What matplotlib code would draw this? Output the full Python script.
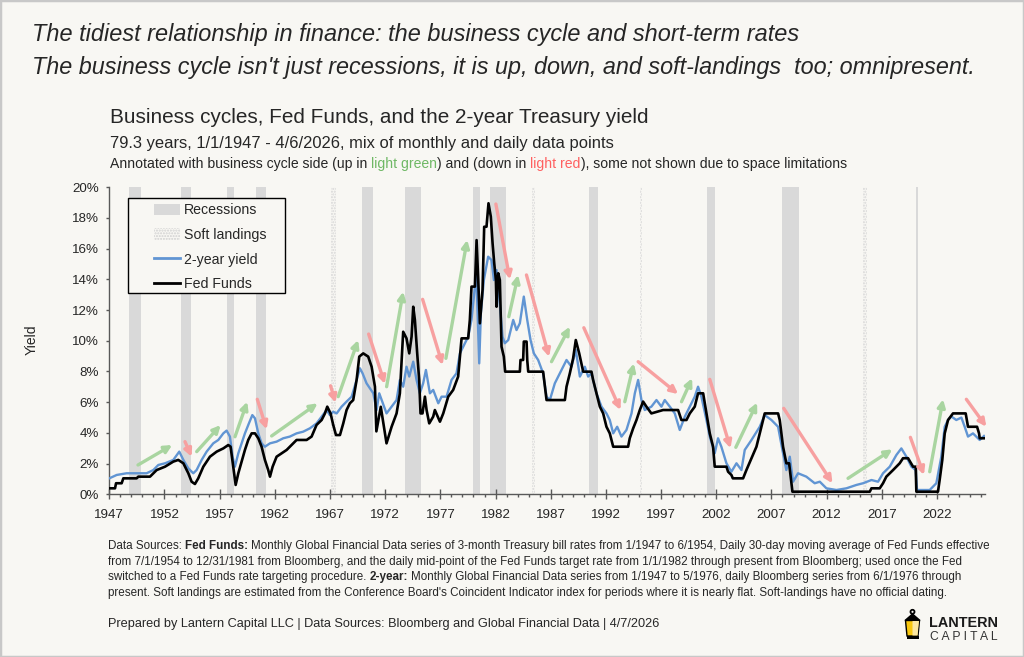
import matplotlib
matplotlib.use('Agg')
import matplotlib.pyplot as plt
from matplotlib.patches import Patch, Polygon, Rectangle, Circle
from matplotlib.lines import Line2D
from matplotlib.ticker import MultipleLocator, FuncFormatter

# Fed Funds (black line)
ff_year = [1947.0, 1947.52, 1947.61, 1948.12, 1948.27, 1949.48, 1949.63, 1950.69, 1951.29, 1952.05,
           1952.8, 1953.25, 1953.71, 1954.16, 1954.46, 1954.76, 1955.06, 1955.52, 1956.12, 1956.73,
           1957.33, 1957.78, 1957.99, 1958.45, 1958.69, 1958.99, 1959.29, 1959.59, 1959.9, 1960.2,
           1960.5, 1960.8, 1961.1, 1961.4, 1961.56, 1961.8, 1962.16, 1962.61, 1963.07, 1963.52,
           1963.97, 1964.88, 1965.33, 1965.78, 1966.24, 1966.54, 1966.75, 1967.05, 1967.29, 1967.54,
           1967.9, 1968.2, 1968.5, 1968.8, 1969.1, 1969.41, 1969.65, 1970.01, 1970.46, 1970.77,
           1971.07, 1971.2, 1971.6, 1972.12, 1972.58, 1973.03, 1973.33, 1973.63, 1973.93, 1974.18,
           1974.39, 1974.54, 1974.69, 1974.9, 1975.08, 1975.2, 1975.38, 1975.6, 1975.75, 1975.99,
           1976.35, 1976.5, 1976.96, 1977.26, 1977.71, 1978.16, 1978.61, 1978.92, 1979.52, 1979.67,
           1979.82, 1980.13, 1980.28, 1980.43, 1980.58, 1980.82, 1980.97, 1981.18, 1981.36, 1981.57,
           1981.73, 1981.88, 1982.03, 1982.09, 1982.24, 1982.39, 1982.54, 1982.75, 1982.87, 1984.2,
           1984.26, 1984.5, 1984.56, 1984.81, 1984.87, 1984.96, 1986.31, 1986.47, 1986.62, 1988.28,
           1988.43, 1988.73, 1989.03, 1989.27, 1989.58, 1989.94, 1990.69, 1990.84, 1991.14, 1991.45,
           1991.75, 1992.05, 1992.35, 1992.66, 1994.01, 1994.16, 1994.47, 1994.77, 1995.07, 1995.37,
           1995.67, 1996.12, 1997.18, 1998.54, 1998.84, 1999.3, 1999.6, 2000.05, 2000.35, 2000.81,
           2001.11, 2001.41, 2001.71, 2001.86, 2002.92, 2003.07, 2003.37, 2003.5, 2004.43, 2004.73,
           2005.64, 2006.39, 2007.6, 2007.75, 2008.05, 2008.35, 2008.6, 2008.9, 2015.91, 2016.06,
           2016.81, 2017.11, 2017.41, 2018.02, 2018.62, 2018.92, 2019.38, 2019.83, 2020.07, 2020.13,
           2022.09, 2022.24, 2022.48, 2022.7, 2023.0, 2023.45, 2024.6, 2024.81, 2025.63, 2025.81,
           2025.87, 2026.26]
ff_rate = [0.39, 0.39, 0.72, 0.72, 1.04, 1.04, 1.15, 1.15, 1.58, 1.80,
           2.13, 2.24, 2.02, 1.37, 0.82, 0.67, 1.04, 1.80, 2.45, 2.78,
           2.99, 3.21, 3.10, 0.61, 1.37, 2.13, 2.89, 3.54, 3.97, 3.97,
           3.65, 3.10, 2.24, 1.58, 1.15, 1.80, 2.45, 2.67, 2.89, 3.21,
           3.54, 3.54, 3.76, 4.52, 4.84, 5.27, 5.71, 5.27, 4.52, 3.86,
           3.86, 4.62, 5.49, 5.93, 6.14, 7.45, 8.97, 9.18, 8.97, 8.31,
           7.01, 4.10, 5.70, 3.32, 4.40, 5.27, 6.58, 10.59, 10.16, 9.18,
           10.27, 12.22, 11.36, 9.18, 7.45, 5.27, 5.27, 6.36, 5.49, 4.62,
           5.06, 5.49, 4.73, 5.27, 6.36, 6.80, 7.67, 10.16, 10.16, 11.36,
           13.53, 13.53, 16.56, 13.96, 11.14, 13.31, 17.43, 17.43, 18.96, 18.09,
           16.35, 15.05, 13.96, 12.22, 14.40, 13.96, 9.62, 8.97, 7.99, 7.99,
           8.75, 8.75, 9.95, 9.95, 8.75, 7.99, 7.99, 7.01, 6.14, 6.14,
           7.01, 7.88, 8.86, 10.05, 9.18, 7.99, 7.99, 7.45, 6.58, 5.71,
           5.27, 4.40, 3.97, 3.10, 3.10, 3.65, 4.30, 4.84, 5.49, 6.04,
           5.71, 5.27, 5.49, 5.49, 4.84, 4.84, 5.27, 5.71, 6.58, 6.58,
           5.27, 3.97, 3.10, 1.80, 1.80, 1.47, 1.26, 1.04, 1.04, 1.58,
           3.10, 5.27, 5.27, 4.84, 3.10, 2.02, 2.02, 0.17, 0.17, 0.39,
           0.39, 0.72, 1.15, 1.58, 2.02, 2.35, 2.35, 1.80, 1.80, 0.17,
           0.17, 0.93, 2.24, 3.97, 4.84, 5.27, 5.27, 4.40, 4.40, 3.97,
           3.65, 3.65]

# 2-year Treasury yield (blue line)
y2_year = [1947.0, 1947.67, 1948.57, 1950.38, 1950.99, 1951.44, 1952.05, 1952.8, 1953.34, 1953.71,
           1954.16, 1954.61, 1954.91, 1955.37, 1955.82, 1956.42, 1956.88, 1957.33, 1957.63, 1957.93,
           1958.17, 1958.38, 1958.69, 1958.99, 1959.29, 1959.65, 1959.96, 1960.2, 1960.5, 1960.8,
           1961.1, 1961.56, 1962.16, 1962.76, 1963.36, 1963.97, 1964.57, 1965.18, 1965.78, 1966.24,
           1966.69, 1966.99, 1967.29, 1967.6, 1968.05, 1968.5, 1968.96, 1969.41, 1969.71, 1969.95,
           1970.31, 1970.92, 1971.22, 1971.46, 1972.12, 1972.58, 1973.03, 1973.33, 1973.63, 1973.93,
           1974.18, 1974.54, 1974.84, 1975.14, 1975.44, 1975.69, 1976.05, 1976.35, 1976.81, 1977.11,
           1977.56, 1978.01, 1978.46, 1978.77, 1979.22, 1979.52, 1979.82, 1980.13, 1980.25, 1980.52,
           1980.67, 1980.94, 1981.33, 1981.63, 1981.85, 1982.09, 1982.33, 1982.63, 1982.84, 1983.15,
           1983.6, 1983.9, 1984.2, 1984.56, 1984.87, 1985.17, 1985.47, 1985.86, 1986.31, 1986.62,
           1986.92, 1987.37, 1987.82, 1988.43, 1988.88, 1989.27, 1989.64, 1990.09, 1990.39, 1990.69,
           1991.14, 1991.6, 1992.05, 1992.35, 1992.66, 1993.02, 1993.41, 1993.86, 1994.32, 1994.62,
           1994.92, 1995.22, 1995.52, 1996.12, 1996.58, 1997.03, 1997.33, 1997.79, 1998.24, 1998.69,
           1999.15, 1999.6, 2000.05, 2000.35, 2000.65, 2001.11, 2001.41, 2001.86, 2002.16, 2002.46,
           2002.92, 2003.37, 2003.83, 2004.28, 2004.58, 2005.19, 2005.94, 2006.39, 2007.0, 2007.6,
           2008.05, 2008.35, 2008.66, 2008.96, 2009.41, 2010.16, 2010.92, 2011.38, 2011.98, 2012.89,
           2013.79, 2014.7, 2015.3, 2016.06, 2016.66, 2017.11, 2017.72, 2018.32, 2018.77, 2019.23,
           2019.68, 2020.07, 2020.19, 2021.34, 2021.94, 2022.39, 2022.7, 2023.0, 2023.3, 2023.75,
           2024.21, 2024.51, 2024.81, 2025.26, 2025.87, 2026.26]
y2_rate = [1.04, 1.26, 1.37, 1.37, 1.58, 1.91, 2.02, 2.24, 2.78, 2.24,
           1.69, 1.37, 1.58, 2.24, 2.78, 3.32, 3.54, 3.97, 4.15, 3.76,
           2.45, 1.80, 2.67, 3.32, 3.97, 4.62, 5.16, 4.95, 3.97, 3.32,
           3.10, 3.32, 3.43, 3.65, 3.76, 3.97, 4.08, 4.30, 4.62, 5.06,
           5.49, 5.16, 5.38, 5.27, 5.71, 6.04, 6.36, 7.45, 8.21, 7.88,
           7.23, 6.58, 5.49, 6.58, 5.27, 5.71, 6.14, 7.45, 7.01, 8.31,
           7.67, 8.64, 7.45, 6.58, 7.23, 8.10, 6.58, 6.80, 5.93, 6.36,
           6.36, 7.45, 7.88, 9.18, 9.84, 10.27, 11.36, 13.53, 14.5, 8.53,
           11.79, 13.96, 15.48, 15.26, 13.96, 14.61, 12.88, 10.27, 9.84, 10.05,
           11.36, 10.70, 11.14, 12.88, 11.36, 10.05, 9.18, 8.75, 7.88, 6.36,
           6.14, 7.23, 7.88, 8.75, 8.31, 9.40, 7.67, 8.31, 7.67, 7.88,
           6.58, 5.71, 5.27, 4.84, 3.97, 4.40, 3.76, 4.19, 5.27, 6.58,
           7.45, 6.14, 5.49, 5.71, 6.14, 5.71, 6.14, 5.71, 5.27, 4.19,
           5.06, 5.71, 6.36, 7.01, 6.36, 4.84, 3.76, 2.67, 3.65, 3.10,
           2.02, 1.47, 2.02, 1.58, 2.89, 3.54, 4.40, 5.16, 4.84, 4.40,
           2.67, 1.58, 2.45, 0.82, 1.37, 1.15, 0.72, 0.82, 0.39, 0.28,
           0.39, 0.61, 0.72, 0.93, 0.82, 1.37, 1.80, 2.56, 2.99, 2.45,
           1.80, 1.58, 0.28, 0.28, 0.72, 2.45, 4.40, 4.84, 5.07, 4.84,
           5.00, 4.40, 3.76, 3.97, 3.54, 3.80]

# NBER recessions and estimated soft landings (start, end)
recessions = [(1948.83, 1949.83), (1953.5, 1954.42), (1957.62, 1958.33), (1960.3, 1961.17),
              (1969.92, 1970.92), (1973.83, 1975.25), (1980.0, 1980.55), (1981.5, 1982.92),
              (1990.5, 1991.25), (2001.17, 2001.9), (2007.92, 2009.48), (2020.1, 2020.32)]
soft_landings = [(1967.05, 1967.5), (1985.3, 1985.55), (1995.05, 1995.28), (2015.3, 2015.65)]

# business cycle arrows: (x0, y0, x1, y1) in year / percent
up_arrows = [(1949.6, 1.91, 1952.7, 3.21), (1954.92, 2.78, 1957.09, 4.51), (1958.39, 3.75, 1959.5, 6.03),
             (1961.71, 3.80, 1965.88, 5.93), (1967.74, 6.36, 1969.55, 10.05), (1972.13, 7.01, 1973.63, 13.2),
             (1977.5, 8.86, 1979.43, 16.57), (1983.2, 11.57, 1984.05, 14.29), (1987.07, 8.64, 1988.73, 10.92),
             (1993.71, 6.03, 1994.53, 8.53), (1998.85, 6.03, 1999.81, 7.56), (2003.77, 3.06, 2005.7, 5.97),
             (2013.94, 1.04, 2017.96, 2.93), (2021.34, 1.47, 2022.55, 6.19)]
down_arrows = [(1953.86, 3.43, 1954.46, 2.45), (1960.41, 6.19, 1961.26, 4.23), (1967.05, 7.07, 1967.5, 5.97),
               (1970.5, 10.44, 1971.97, 7.19), (1975.39, 12.7, 1977.2, 8.42), (1982.03, 18.91, 1983.3, 14.0),
               (1984.8, 14.29, 1986.85, 8.96), (1990.0, 10.85, 1993.32, 5.49), (1994.92, 8.64, 1998.54, 6.53),
               (2001.41, 7.49, 2003.29, 3.0), (2008.11, 5.6, 2012.53, 0.72), (2019.59, 3.71, 2020.82, 1.26),
               (2024.66, 6.19, 2026.47, 4.40)]

year_ticks = list(range(1947, 2023, 5))
legend_labels = ['Recessions', 'Soft landings', '2-year yield', 'Fed Funds']

W, H = 1024, 657
BG = '#f8f7f3'
BLUE = '#6195d3'
GREEN = '#a9d5a0'
RED = '#f7a0a0'
TXT = '#262626'

plt.rcParams['font.family'] = ['Liberation Sans', 'DejaVu Sans']
fig = plt.figure(figsize=(W / 100, H / 100), dpi=100, facecolor=BG)
renderer = fig.canvas.get_renderer()

# main axes, placed in pixel terms
AX_L, AX_R, AX_T, AX_B = 109.3, 985.0, 187.3, 494.3
ax = fig.add_axes([AX_L / W, 1 - AX_B / H, (AX_R - AX_L) / W, (AX_B - AX_T) / H])
ax.set_facecolor(BG)


def ax_frac(px, py):
    return (px - AX_L) / (AX_R - AX_L), (AX_B - py) / (AX_B - AX_T)


for a, b in recessions:
    ax.axvspan(a, b, color='#d9d9d9', lw=0, zorder=0)
for a, b in soft_landings:
    ax.axvspan(a, b, facecolor='none', edgecolor='#d6d6d6', hatch='......', lw=0, zorder=0)

ax.plot(y2_year, y2_rate, color=BLUE, lw=1.7, zorder=3)
ax.plot(ff_year, ff_rate, color='black', lw=1.9, zorder=4)

for arrows, col in ((up_arrows, GREEN), (down_arrows, RED)):
    for x0, y0, x1, y1 in arrows:
        ax.annotate('', xy=(x1, y1), xytext=(x0, y0), annotation_clip=False, zorder=5,
                    arrowprops=dict(arrowstyle='-|>', color=col, lw=2.4, mutation_scale=11,
                                    shrinkA=0, shrinkB=0))

ax.set_xlim(1947, 2026.35)
ax.set_ylim(0, 20)
ax.set_xticks(year_ticks)
ax.xaxis.set_minor_locator(MultipleLocator(1))
ax.yaxis.set_major_locator(MultipleLocator(2))
ax.yaxis.set_major_formatter(FuncFormatter(lambda v, p: f'{v:.0f}%'))
ax.tick_params(axis='x', which='major', direction='inout', length=7, width=1, color='#595959',
               labelsize=9.6, labelcolor=TXT, pad=7)
ax.tick_params(axis='x', which='minor', direction='out', length=2.5, width=1, color='#595959')
ax.tick_params(axis='y', direction='out', length=2.5, width=1, color='#595959',
               labelsize=9.6, labelcolor=TXT, pad=5)
for s in ('top', 'right'):
    ax.spines[s].set_visible(False)
for s in ('left', 'bottom'):
    ax.spines[s].set_color('#595959')
    ax.spines[s].set_linewidth(1)

fig.text(32 / W, 1 - 340 / H, 'Yield', rotation=90, ha='center', va='center', fontsize=10, color=TXT)

# legend: box drawn separately so the inner padding matches the original
bx0, by0 = ax_frac(128, 293)
bx1, by1 = ax_frac(285, 198)
ax.add_patch(Rectangle((bx0, by0), bx1 - bx0, by1 - by0, transform=ax.transAxes,
                       facecolor=BG, edgecolor='black', lw=1, zorder=6))
handles = [Patch(facecolor='#d9d9d9', lw=0),
           Patch(facecolor=BG, edgecolor='#d0d0d0', hatch='......', lw=0),
           Line2D([], [], color=BLUE, lw=2),
           Line2D([], [], color='black', lw=2)]
leg = ax.legend(handles, legend_labels, loc='upper left', bbox_to_anchor=ax_frac(154, 203.5),
                frameon=False, fontsize=10.2, borderaxespad=0, borderpad=0,
                handlelength=1.8, handleheight=0.9, handletextpad=0.3, labelspacing=0.75)
leg.set_zorder(7)
for t in leg.get_texts():
    t.set_color(TXT)


def text_width(s, size, weight='normal', style='normal'):
    t = fig.text(0, 0, s, fontsize=size, fontweight=weight, fontstyle=style)
    w = t.get_window_extent(renderer).width
    t.remove()
    return w


def fit_text(x_px, y_px, s, right_px, size, **kw):
    w = text_width(s, size, kw.get('fontweight', 'normal'), kw.get('style', 'normal'))
    size = size * (right_px - x_px) / w
    fig.text(x_px / W, 1 - y_px / H, s, fontsize=size, va='baseline', ha='left', **kw)
    return size


def pieces_width(pieces, size):
    sp = text_width('a a', size) - text_width('aa', size)
    return sum(text_width(s, size, wt) + (sp if gap else 0) for s, c, wt, gap in pieces)


def draw_pieces(x_px, y_px, pieces, size):
    sp = text_width('a a', size) - text_width('aa', size)
    x = x_px
    for s, color, weight, gap in pieces:
        if gap:
            x += sp
        t = fig.text(x / W, 1 - y_px / H, s, fontsize=size, color=color, fontweight=weight,
                     va='baseline', ha='left')
        x += t.get_window_extent(renderer).width


# headline and chart titles
fit_text(32, 41.5, 'The tidiest relationship in finance: the business cycle and short-term rates',
         797, 16, style='italic', color=TXT)
fit_text(32, 74, "The business cycle isn't just recessions, it is up, down, and soft-landings  too; omnipresent.",
         975, 16, style='italic', color=TXT)
fit_text(110, 123.3, 'Business cycles, Fed Funds, and the 2-year Treasury yield', 648, 13, color=TXT)
fit_text(110, 147.7, '79.3 years, 1/1/1947 - 4/6/2026, mix of monthly and daily data points', 613, 10, color=TXT)

note = [('Annotated with business cycle side (up in', TXT, 'normal', False),
        ('light green', '#6fb865', 'normal', True),
        (') and (down in', TXT, 'normal', False),
        ('light red', '#ff6060', 'normal', True),
        ('), some not shown due to space limitations', TXT, 'normal', False)]
sz = 8.5 * (843 - 110) / pieces_width(note, 8.5)
draw_pieces(110, 167.7, note, sz)

# footnote
foot = [
    [('Data Sources:', TXT, 'normal', False), ('Fed Funds:', TXT, 'bold', True),
     ('Monthly Global Financial Data series of 3-month Treasury bill rates from 1/1947 to 6/1954, '
      'Daily 30-day moving average of Fed Funds effective', TXT, 'normal', True)],
    [('from 7/1/1954 to 12/31/1981 from Bloomberg, and the daily mid-point of the Fed Funds target rate '
      'from 1/1/1982 through present from Bloomberg; used once the Fed', TXT, 'normal', False)],
    [('switched to a Fed Funds rate targeting procedure.', TXT, 'normal', False), ('2-year:', TXT, 'bold', True),
     ('Monthly Global Financial Data series from 1/1947 to 5/1976, daily Bloomberg series from 6/1/1976 through',
      TXT, 'normal', True)],
    [("present. Soft landings are estimated from the Conference Board's Coincident Indicator index for periods "
      "where it is nearly flat. Soft-landings have no official dating.", TXT, 'normal', False)],
]
fsz = 8.3 * (988 - 108) / pieces_width(foot[0], 8.3)
for i, line in enumerate(foot):
    draw_pieces(108, 549.3 + i * 15.5, line, fsz)

fit_text(108, 627, 'Prepared by Lantern Capital LLC | Data Sources: Bloomberg and Global Financial Data | 4/7/2026',
         662, 9, color=TXT)

# logo
lg = fig.add_axes([895 / W, 1 - 645 / H, 110 / W, 40 / H])
lg.set_xlim(895, 1005)
lg.set_ylim(645, 605)
lg.axis('off')
lg.add_patch(Circle((912.5, 611.8), 2.0, fill=False, ec='black', lw=1.3))
lg.add_patch(Polygon([(905, 620.5), (912.5, 614), (920, 620.5)], closed=True, fc='black', ec='black', lw=1))
lg.add_patch(Polygon([(905.5, 620.5), (919.5, 620.5), (918, 636), (907, 636)], closed=True,
                     fc='#f8c70f', ec='black', lw=1))
lg.add_patch(Polygon([(912.5, 621), (919, 621), (917.6, 635.5), (912.5, 635.5)], closed=True,
                     fc='#fce7a0', lw=0))
lg.add_patch(Rectangle((906.5, 636), 12, 3, fc='black', lw=0))
fit_text(929, 627, 'LANTERN', 998, 10.5, fontweight='bold', color='#1a1a1a')
fit_text(929.5, 640, 'C A P I T A L', 997, 8, color='#333333')

fig.add_artist(Rectangle((0, 0), 1, 1, transform=fig.transFigure, fill=False, ec='#c8c8c8', lw=2.5))

fig.savefig('out.png', dpi=100, facecolor=BG)
